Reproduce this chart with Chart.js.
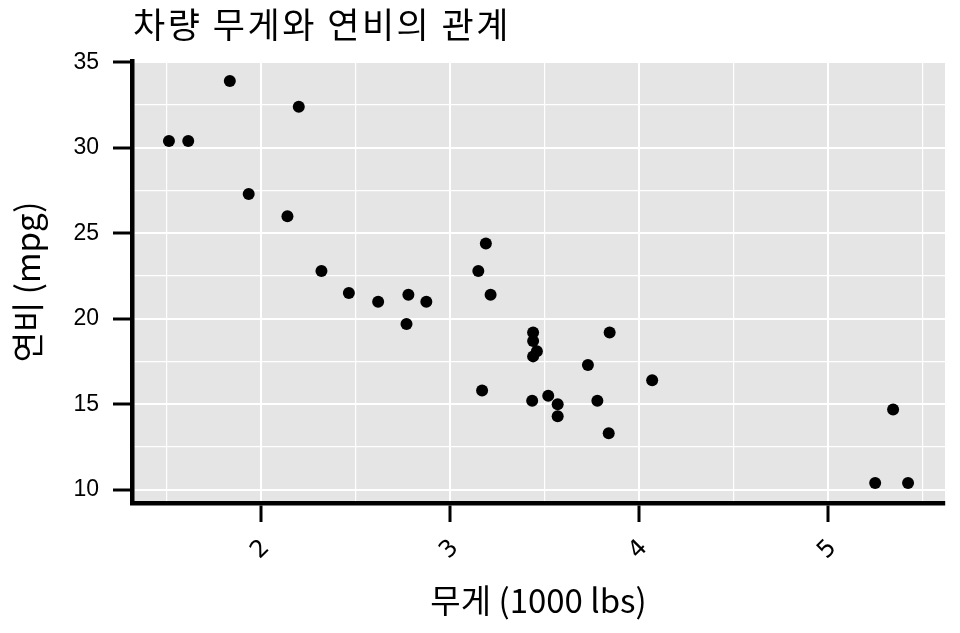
<!DOCTYPE html>
<html>
<head>
<meta charset="utf-8">
<script src="https://cdn.jsdelivr.net/npm/chart.js@4.4.1/dist/chart.umd.min.js"></script>
<style>
  html, body { margin: 0; padding: 0; background: #ffffff; }
  #wrap { width: 960px; height: 633px; position: relative; }
</style>
</head>
<body>
<div id="wrap"><canvas id="c" width="960" height="633"></canvas></div>
<script>
// mtcars: weight (1000 lbs) and fuel economy (mpg)
const weights = [2.620, 2.875, 2.320, 3.215, 3.440, 3.460, 3.570, 3.190, 3.150, 3.440, 3.440,
                 4.070, 3.730, 3.780, 5.250, 5.424, 5.345, 2.200, 1.615, 1.835, 2.465, 3.520,
                 3.435, 3.840, 3.845, 1.935, 2.140, 1.513, 3.170, 2.770, 3.570, 2.780];
const mpgValues = [21.0, 21.0, 22.8, 21.4, 18.7, 18.1, 14.3, 24.4, 22.8, 19.2, 17.8,
                   16.4, 17.3, 15.2, 10.4, 10.4, 14.7, 32.4, 30.4, 33.9, 21.5, 15.5,
                   15.2, 13.3, 19.2, 27.3, 26.0, 30.4, 15.8, 19.7, 15.0, 21.4];
const xMajorTicks = [2, 3, 4, 5];
const xMinorTicks = [1.5, 2.5, 3.5, 4.5, 5.5];
const yMajorTicks = [10, 15, 20, 25, 30, 35];
const yMinorTicks = [12.5, 17.5, 22.5, 27.5, 32.5];
const titleText = '차량 무게와 연비의 관계';
const xTitle = '무게 (1000 lbs)';
const yTitle = '연비 (mpg)';

const points = weights.map((w, i) => ({ x: w, y: mpgValues[i] }));

function rangeOf(arr) {
  const lo = Math.min(...arr), hi = Math.max(...arr), e = (hi - lo) * 0.05;
  return [lo - e, hi + e];
}
const [xMin, xMax] = rangeOf(weights);
const [yMin, yMax] = rangeOf(mpgValues);

function tickSet(major, minor) {
  return major.concat(minor).sort((a, b) => a - b).map(v => ({ value: v }));
}
const isMajor = (arr, v) => arr.some(m => Math.abs(m - v) < 1e-9);

const panelBg = {
  id: 'panelBg',
  beforeDraw(chart) {
    const { ctx, chartArea: a } = chart;
    ctx.save();
    ctx.fillStyle = '#E5E5E5';
    ctx.fillRect(a.left, a.top, a.right - a.left, a.bottom - a.top);
    ctx.restore();
  }
};
const titlePlugin = {
  id: 'leftTitle',
  afterDraw(chart) {
    const { ctx, chartArea: a } = chart;
    ctx.save();
    ctx.fillStyle = '#000';
    ctx.font = '35px "Noto Sans CJK KR", "Noto Sans", sans-serif';
    if ('letterSpacing' in ctx) ctx.letterSpacing = '2.5px';
    ctx.textBaseline = 'middle';
    ctx.textAlign = 'left';
    ctx.fillText(titleText, a.left + 1, 25);
    ctx.restore();
  }
};

new Chart(document.getElementById('c'), {
  type: 'scatter',
  data: {
    datasets: [{
      data: points,
      backgroundColor: '#000',
      borderColor: '#000',
      pointRadius: 6,
      pointHoverRadius: 6,
      borderWidth: 0
    }]
  },
  options: {
    responsive: false,
    animation: false,
    events: [],
    layout: { padding: { top: 61, right: 15, left: 0, bottom: 0 } },
    plugins: { legend: { display: false }, tooltip: { enabled: false }, title: { display: false } },
    scales: {
      x: {
        type: 'linear',
        min: xMin, max: xMax,
        afterBuildTicks(s) { s.ticks = tickSet(xMajorTicks, xMinorTicks); },
        afterFit(s) { s.height = 130; },
        border: { display: true, color: '#000', width: 4.5 },
        grid: {
          color: '#fff',
          lineWidth: c => (c.tick && isMajor(xMajorTicks, c.tick.value)) ? 2 : 1.2,
          tickColor: c => (c.tick && isMajor(xMajorTicks, c.tick.value)) ? '#000' : 'rgba(0,0,0,0)',
          tickWidth: 3,
          tickLength: 19
        },
        ticks: {
          autoSkip: false,
          minRotation: 45, maxRotation: 45,
          padding: 12,
          labelOffset: 5,
          color: '#000',
          font: { family: '"DejaVu Sans", sans-serif', size: 24 },
          callback: v => isMajor(xMajorTicks, v) ? String(v) : ''
        },
        title: {
          display: true, text: xTitle, color: '#000',
          font: { family: '"Noto Sans CJK KR", "Noto Sans", sans-serif', size: 33 },
          padding: 13
        }
      },
      y: {
        type: 'linear',
        min: yMin, max: yMax,
        afterBuildTicks(s) { s.ticks = tickSet(yMajorTicks, yMinorTicks); },
        afterFit(s) { s.width = 132; },
        border: { display: true, color: '#000', width: 4.5 },
        grid: {
          color: '#fff',
          lineWidth: c => (c.tick && isMajor(yMajorTicks, c.tick.value)) ? 2 : 1.2,
          tickColor: c => (c.tick && isMajor(yMajorTicks, c.tick.value)) ? '#000' : 'rgba(0,0,0,0)',
          tickWidth: 3,
          tickLength: 19
        },
        ticks: {
          autoSkip: false,
          padding: 14,
          color: '#000',
          font: { family: '"Liberation Sans", Arial, sans-serif', size: 23 },
          callback: v => isMajor(yMajorTicks, v) ? String(v) : ''
        },
        title: {
          display: true, text: yTitle, color: '#000',
          font: { family: '"Noto Sans CJK KR", "Noto Sans", sans-serif', size: 33 },
          padding: 8
        }
      }
    }
  },
  plugins: [panelBg, titlePlugin]
});
</script>
</body>
</html>
